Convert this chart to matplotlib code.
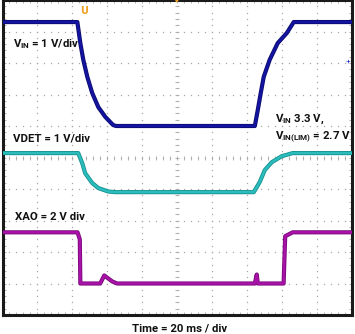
import numpy as np
import matplotlib
matplotlib.use("Agg")
import matplotlib.pyplot as plt

plt.rcParams['font.family'] = ['Roboto', 'DejaVu Sans']
plt.rcParams['mathtext.fontset'] = 'custom'
plt.rcParams['mathtext.rm'] = 'Roboto:bold'
plt.rcParams['mathtext.it'] = 'Roboto:bold'
plt.rcParams['mathtext.bf'] = 'Roboto:bold'

# scope settings: 20 ms/div, 10 x 10 divisions
ms_per_div = 20

# VIN channel, 1 V/div, ground at 6 div
vin_t = [0, 42.9, 44.6, 46.3, 48.6, 51.4, 54.9, 58.9, 63.4, 65.1,
         144.6, 146.3, 148.0, 149.7, 153.1, 157.7, 162.9, 166.9, 200]
vin_v = [3.3, 3.3, 2.63, 2.10, 1.56, 1.05, 0.60, 0.29, 0.03, 0.0,
         0.0, 0.51, 1.05, 1.56, 2.10, 2.63, 2.95, 3.3, 3.3]

# VDET channel, 1 V/div, ground at 3.9 div
vdet_t = [0, 43.4, 45.7, 47.4, 51.4, 54.9, 60.6, 64.6,
          144.0, 147.4, 150.3, 154.3, 160.0, 166.3, 200]
vdet_v = [1.24, 1.24, 0.92, 0.60, 0.29, 0.13, 0.02, 0.0,
          0.0, 0.32, 0.70, 0.95, 1.14, 1.24, 1.24]

# XAO channel, 2 V/div, ground at 1 div
xao_t = [0, 43.0, 44.3, 44.6, 56.0, 58.3, 60.6, 62.9, 65.7,
         144.6, 145.7, 146.3, 161.1, 162.0, 166.3, 200]
xao_v = [3.25, 3.25, 2.8, 0.0, 0.0, 0.51, 0.32, 0.13, 0.0,
         0.0, 0.57, 0.0, 0.0, 3.0, 3.25, 3.25]

channels = [
    (vin_t, vin_v, 6.0, 1.0, '#1414a0', '#0a0a70'),
    (vdet_t, vdet_v, 3.9, 1.0, '#2bbcbc', '#178f8f'),
    (xao_t, xao_v, 1.0, 2.0, '#a812a8', '#7a0a7a'),
]

fig = plt.figure(figsize=(3.55, 3.34), dpi=100)
ax = fig.add_axes([2.5 / 355, 19 / 334, 349 / 355, 315 / 334])
ax.set_xlim(0, 10 * ms_per_div)
ax.set_ylim(0, 10)

# dotted graticule
grid_c = '#a8a8a8'
sub_x = np.arange(0, 10 * ms_per_div + 0.1, ms_per_div / 5)
sub_y = np.arange(0, 10.01, 0.2)
for k in range(1, 10):
    ax.plot(sub_x, np.full_like(sub_x, k), ls='none', marker='s', ms=0.9,
            color=grid_c, mec='none', zorder=1)
    ax.plot(np.full_like(sub_y, k * ms_per_div), sub_y, ls='none', marker='s',
            ms=0.9, color=grid_c, mec='none', zorder=1)

# minor ticks on the centre cross
ax.plot(sub_x, np.full_like(sub_x, 5), ls='none', marker='|', ms=3.5,
        mew=0.6, color=grid_c, zorder=1)
ax.plot(np.full_like(sub_y, 5 * ms_per_div), sub_y, ls='none', marker='_',
        ms=3.5, mew=0.6, color=grid_c, zorder=1)

# traces
for t, v, offset, vdiv, c, edge in channels:
    y = offset + np.array(v) / vdiv
    ax.plot(t, y, color=edge, lw=3.0, solid_joinstyle='round', zorder=3)
    ax.plot(t, y, color=c, lw=1.8, solid_joinstyle='round', zorder=4)

# frame
for s in ax.spines.values():
    s.set_linewidth(2.2)
    s.set_color('#1a1a1a')
ax.set_xticks(sub_x)
ax.set_yticks(sub_y)
ax.tick_params(direction='in', length=2.5, width=0.6, color=grid_c,
               top=True, right=True, labelbottom=False, labelleft=False)

# trigger markers
ax.text(46.5, 9.65, 'U', color='#f0a020', fontsize=7, fontweight='bold',
        ha='center', va='center', family='DejaVu Sans')
ax.text(100, 9.98, '\u25cf', color='#f0a020', fontsize=3, ha='center', va='center')
ax.text(198, 8.04, '+', color='#2030c0', fontsize=6, ha='center', va='center')

tk = dict(fontsize=8.2, fontweight='bold', color='#111111', ha='left', va='baseline')
ax.text(6.0, 8.5, r'$\mathrm{V_{IN}}$ = 1 V/div', **tk)
ax.text(6.0, 5.5, 'VDET = 1 V/div', **tk)
ax.text(7.2, 3.0, 'XAO = 2 V div', **tk)
ax.text(156, 6.13, r'$\mathrm{V_{IN}}$ 3.3 V,', **tk)
ax.text(156, 5.56, r'$\mathrm{V_{IN(LIM)}}$ = 2.7 V', **tk)

fig.text(180 / 355, 3 / 334, 'Time = 20 ms / div', fontsize=8.2,
         fontweight='bold', color='#111111', ha='center', va='baseline')

fig.savefig('out.png', dpi=100)
